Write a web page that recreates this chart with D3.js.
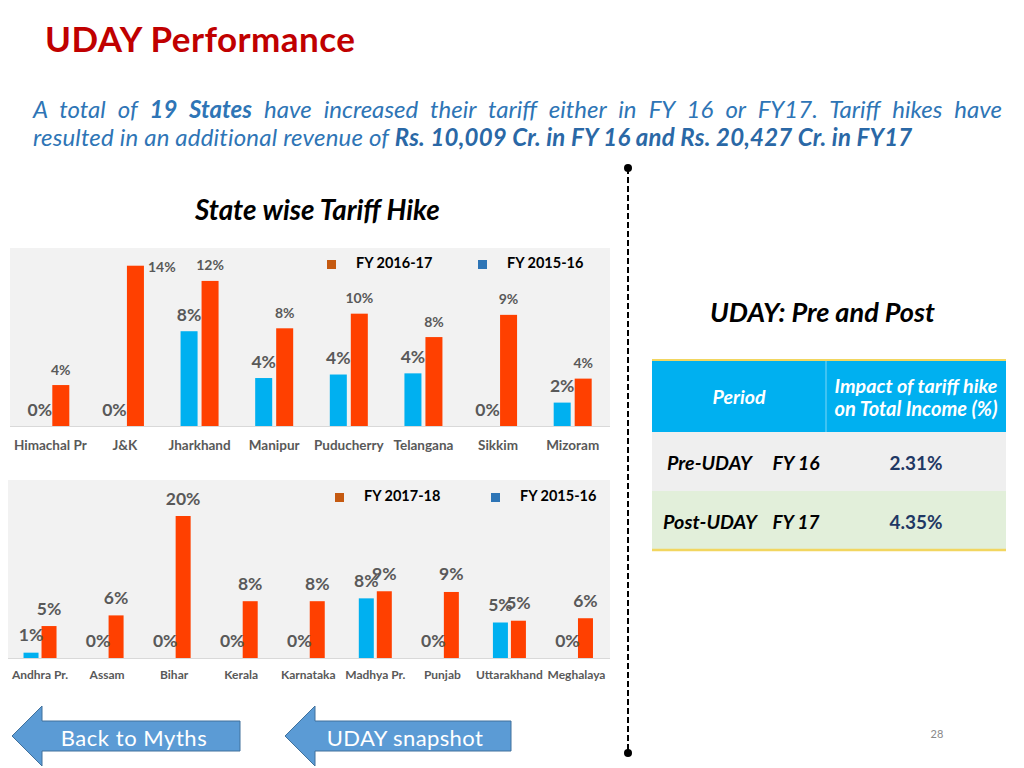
<!DOCTYPE html>
<html><head><meta charset="utf-8">
<script src="https://cdn.jsdelivr.net/npm/d3@7"></script>
<style>
html,body{margin:0;padding:0;background:#fff;}
svg{display:block;font-family:Lato,"Open Sans",sans-serif;}
</style></head>
<body>
<svg id="c" width="1024" height="768"></svg>
<script>
// ---------- data ----------
const topCats = ["Himachal Pr","J&K","Jharkhand","Manipur","Puducherry","Telangana","Sikkim","Mizoram"];
const topFY16 = [0, 0, 8.1, 4.1, 4.4, 4.5, 0, 2.0];
const topFY17 = [3.5, 13.7, 12.4, 8.35, 9.6, 7.6, 9.5, 4.05];
const topFY16Labels = ["0%","0%","8%","4%","4%","4%","0%","2%"];
const topFY17Labels = ["4%","14%","12%","8%","10%","8%","9%","4%"];
const topLegend = ["FY 2016-17","FY 2015-16"];

const botCats = ["Andhra Pr.","Assam","Bihar","Kerala","Karnataka","Madhya Pr.","Punjab","Uttarakhand","Meghalaya"];
const botFY16 = [0.75, 0, 0, 0, 0, 8.4, 0, 5.0, 0];
const botFY18 = [4.5, 6.0, 20, 8.0, 8.0, 9.4, 9.3, 5.25, 5.6];
const botFY16Labels = ["1%","0%","0%","0%","0%","8%","0%","5%","0%"];
const botFY18Labels = ["5%","6%","20%","8%","8%","9%","9%","5%","6%"];
const botLegend = ["FY 2017-18","FY 2015-16"];

const tableHeader = ["Period", ["Impact of tariff hike","on Total Income (%)"]];
const tablePeriods = [["Pre-UDAY","FY 16"],["Post-UDAY","FY 17"]];
const tableValues = ["2.31%","4.35%"];

const buttons = ["Back to Myths","UDAY snapshot"];

// ---------- drawing ----------
const svg = d3.select("#c");
const ORANGE = "#ff4000", BLUE = "#00b0f0";
const LEG_OR = "#c55a11", LEG_BL = "#2e75b6";
const GREY = "#595959";

function fitLetter(sel, target){
  const n = sel.node();
  const w = n.getComputedTextLength();
  const chars = n.textContent.length;
  if (chars > 1) sel.attr("letter-spacing", (target - w) / (chars - 1));
}
function fitWords(sel, target){
  const n = sel.node();
  const w = n.getComputedTextLength();
  const spaces = (n.textContent.match(/ /g) || []).length;
  if (spaces) sel.attr("word-spacing", (target - w) / spaces);
}
function fitSize(sel, target){
  const n = sel.node();
  const fs = +sel.attr("font-size");
  const w = n.getComputedTextLength();
  const nf = fs * target / w;
  sel.attr("font-size", nf);
  return nf;
}

// Title
const title = svg.append("text").attr("x",45).attr("y",52)
  .attr("font-size",35).attr("font-weight",700).attr("fill","#c00000")
  .text("UDAY Performance");
fitLetter(title, 310);

// Subtitle
const l2 = svg.append("text").attr("x",33).attr("y",146).attr("font-size",22)
  .attr("font-style","italic").attr("fill","#2e75b6");
l2.append("tspan").text("resulted in an additional revenue of ");
l2.append("tspan").attr("font-weight",700).attr("fill","#2a68a6").text("Rs. 10,009 Cr. in FY 16 and Rs. 20,427 Cr. in FY17");
const subFs = Math.min(fitSize(l2, 879), 24);
l2.attr("font-size", subFs);
fitLetter(l2, 879);
const l1 = svg.append("text").attr("x",33).attr("y",118).attr("font-size",subFs)
  .attr("font-style","italic").attr("fill","#2e75b6");
l1.append("tspan").text("A total of ");
l1.append("tspan").attr("font-weight",700).text("19 States");
l1.append("tspan").text(" have increased their tariff either in FY 16 or FY17. Tariff hikes have");
fitWords(l1, 969);

// Chart title
const ct = svg.append("text").attr("x",195).attr("y",220).attr("font-size",22)
  .attr("font-weight",700).attr("font-style","italic").attr("fill","#000")
  .text("State wise Tariff Hike");
fitSize(ct, 245);

// Generic grouped bar chart
function barChart(o){
  const g = svg.append("g");
  g.append("rect").attr("x",o.left).attr("y",o.top).attr("width",o.right-o.left)
    .attr("height",o.bottom-o.top+1).attr("fill","#f2f2f2");
  const x = d3.scaleBand().domain(o.cats).range([o.bandL, o.right]);
  const x1 = d3.scaleBand().domain(["a","b"]).range([-o.half, o.half]).paddingInner(o.pin);
  const y = d3.scaleLinear().domain([0, o.ymax]).range([o.bottom, o.top]);
  g.append("line").attr("x1",o.left).attr("x2",o.right).attr("y1",o.bottom+0.5).attr("y2",o.bottom+0.5)
    .attr("stroke","#d9d9d9");
  const cx = c => x(c) + x.bandwidth()/2;
  g.selectAll(".b").data(o.cats).join("rect")
    .attr("x", (c)=> cx(c) + x1("a")).attr("width", x1.bandwidth())
    .attr("y", (c,i)=> y(o.s1[i])).attr("height",(c,i)=> y(0)-y(o.s1[i])).attr("fill",BLUE);
  g.selectAll(".o").data(o.cats).join("rect")
    .attr("x", (c)=> cx(c) + x1("b")).attr("width", x1.bandwidth())
    .attr("y", (c,i)=> y(o.s2[i])).attr("height",(c,i)=> y(0)-y(o.s2[i])).attr("fill",ORANGE);
  o.cats.forEach((c,i)=>{
    g.append("text").attr("x", cx(c)+x1("a")+x1.bandwidth()/2).attr("y", y(o.s1[i]) - o.off1)
      .attr("text-anchor","middle").attr("dominant-baseline","central")
      .attr("font-size",o.fs1).attr("font-weight",700).attr("fill",GREY).text(o.l1[i]);
    const ly = y(o.s2[i]) - o.off2;
    const t = g.append("text").attr("dominant-baseline","central")
      .attr("font-size",o.fs2).attr("font-weight",700).attr("fill",GREY).text(o.l2[i]);
    if (ly < o.top + 10) {
      t.attr("x", cx(c)+x1("b")+x1.bandwidth()+4).attr("y", y(o.s2[i])+1).attr("text-anchor","start");
    } else {
      t.attr("x", cx(c)+x1("b")+x1.bandwidth()/2).attr("y", ly).attr("text-anchor","middle");
    }
  });
  g.selectAll(".cl").data(o.cats).join("text")
    .attr("x", c=>cx(c)).attr("y", o.labY).attr("text-anchor","middle")
    .attr("dominant-baseline","central").attr("font-size",o.cfs).attr("font-weight",700)
    .attr("fill",GREY).text(c=>c);
  const lg = g.append("g");
  [[LEG_OR,o.leg[0],o.legX[0]],[LEG_BL,o.leg[1],o.legX[1]]].forEach(([col,txt,lx])=>{
    lg.append("rect").attr("x",lx).attr("y",o.legY-4).attr("width",9).attr("height",9).attr("fill",col);
    lg.append("text").attr("x",lx+29).attr("y",o.legY-2).attr("dominant-baseline","central")
      .attr("font-size",14.5).attr("font-weight",700).attr("fill","#000").text(txt);
  });
}

barChart({cats:topCats, s1:topFY16, s2:topFY17, l1:topFY16Labels, l2:topFY17Labels,
  left:10, right:610, bandL:13, top:248, bottom:426, ymax:178/11.7,
  half:19, pin:0.19, off1:17, off2:16, fs1:17.5, fs2:14, cfs:13.5, labY:445,
  leg:topLegend, legX:[327,478], legY:264});

barChart({cats:botCats, s1:botFY16, s2:botFY18, l1:botFY16Labels, l2:botFY18Labels,
  left:8, right:610, bandL:6.5, top:480, bottom:658, ymax:178/7.1,
  half:16.5, pin:0.1667, off1:18, off2:18, fs1:17.5, fs2:17.5, cfs:12, labY:674,
  leg:botLegend, legX:[335,491], legY:497});

// Dashed divider
svg.append("line").attr("x1",628).attr("x2",628).attr("y1",168).attr("y2",753)
  .attr("stroke","#000").attr("stroke-width",2).attr("stroke-dasharray","6,3");
svg.append("circle").attr("cx",628).attr("cy",168).attr("r",4).attr("fill","#000");
svg.append("circle").attr("cx",628).attr("cy",753).attr("r",4).attr("fill","#000");

// UDAY Pre and Post
const pp = svg.append("text").attr("x",710).attr("y",322).attr("font-size",23)
  .attr("font-weight",700).attr("font-style","italic").attr("fill","#000")
  .text("UDAY: Pre and Post");
fitSize(pp, 225);

// Table
const T = svg.append("g");
T.append("rect").attr("x",652).attr("y",361).attr("width",354).attr("height",71).attr("fill","#00b0f0");
T.append("rect").attr("x",652).attr("y",432).attr("width",354).attr("height",59).attr("fill","#efefef");
T.append("rect").attr("x",652).attr("y",491).attr("width",354).attr("height",58).attr("fill","#e2efda");
T.append("line").attr("x1",652).attr("x2",1006).attr("y1",360).attr("y2",360).attr("stroke","#f2d660").attr("stroke-width",2);
T.append("line").attr("x1",652).attr("x2",1006).attr("y1",550).attr("y2",550).attr("stroke","#f2d660").attr("stroke-width",2.5);
T.append("line").attr("x1",826).attr("x2",826).attr("y1",361).attr("y2",432).attr("stroke","#7fd6f6").attr("stroke-width",1);
const per = T.append("text").attr("x",739).attr("y",396).attr("text-anchor","middle").attr("dominant-baseline","central")
  .attr("font-size",17).attr("font-weight",700).attr("font-style","italic").attr("fill","#fff").text(tableHeader[0]);
fitSize(per, 53);
tableHeader[1].forEach((s,i)=>{
  const t = T.append("text").attr("x",916).attr("y",385+i*23).attr("text-anchor","middle").attr("dominant-baseline","central")
    .attr("font-size",16).attr("font-weight",700).attr("font-style","italic").attr("fill","#fff").text(s);
  fitSize(t, 163);
});
const rowY = [462, 521];
const rowCx = [709.5, 710];
const rowW = [85, 94];
tablePeriods.forEach((p,i)=>{
  const a = T.append("text").attr("x", rowCx[i]).attr("y",rowY[i]).attr("text-anchor","middle").attr("dominant-baseline","central")
    .attr("font-size",17).attr("font-weight",700).attr("font-style","italic").attr("fill","#000").text(p[0]);
  fitSize(a, rowW[i]);
  const b = T.append("text").attr("x",796).attr("y",rowY[i]).attr("text-anchor","middle").attr("dominant-baseline","central")
    .attr("font-size",17).attr("font-weight",700).attr("font-style","italic").attr("fill","#000").text(p[1]);
  fitSize(b, 47);
  const v = T.append("text").attr("x",916).attr("y",rowY[i]).attr("text-anchor","middle").attr("dominant-baseline","central")
    .attr("font-size",17).attr("font-weight",700).attr("fill","#1f3864").text(tableValues[i]);
  fitSize(v, 53);
});

// Buttons
const btnX = [[12,42,240],[285,315,511]];
const btnCx = [134, 405];
const btnW = [146, 156];
buttons.forEach((b,i)=>{
  const [tip,hb,r] = btnX[i];
  const pts = [[tip,736],[hb,706],[hb,721],[r,721],[r,751],[hb,751],[hb,766]];
  svg.append("path").attr("d", d3.line()(pts)+"Z").attr("fill","#5b9bd5").attr("stroke","#41719c").attr("stroke-width",1);
  const t = svg.append("text").attr("x",btnCx[i]).attr("y",737).attr("text-anchor","middle")
    .attr("dominant-baseline","central").attr("font-size",22).attr("fill","#fff").text(b);
  fitLetter(t, btnW[i]);
});

// Page number
svg.append("text").attr("x",937).attr("y",733).attr("text-anchor","middle").attr("dominant-baseline","central")
  .attr("font-size",11).attr("fill","#898989").text("28");
</script>
</body></html>
